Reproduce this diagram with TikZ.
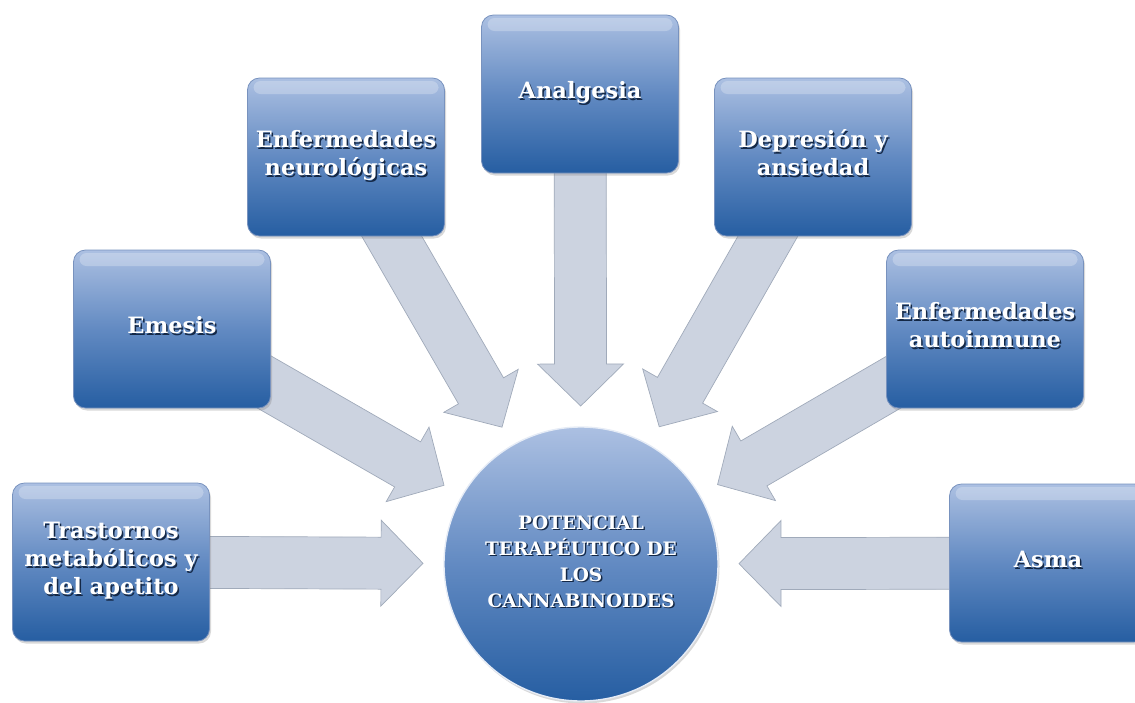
\documentclass[tikz,border=0pt]{standalone}
\usepackage{fontspec}
\setmainfont{DejaVu Serif}
\usetikzlibrary{calc,shadows,backgrounds}

\definecolor{boxtop}{RGB}{172,192,226}
\definecolor{boxmid}{RGB}{98,138,194}
\definecolor{boxbot}{RGB}{38,94,162}
\definecolor{boxedge}{RGB}{120,146,190}
\definecolor{arrowfill}{RGB}{204,211,224}
\definecolor{arrowedge}{RGB}{160,170,186}
\definecolor{txtshadow}{RGB}{20,40,70}

% white text with a dark offset copy underneath
\newcommand{\glowtext}[1]{%
  \leavevmode\rlap{\kern1.5pt\raisebox{-1.5pt}{\color{txtshadow}\begin{tabular}{@{}c@{}}#1\end{tabular}}}%
  \begin{tabular}{@{}c@{}}#1\end{tabular}}

% broad block arrow from node #1 towards node #2
\newcommand{\fatarrow}[2]{%
  \coordinate (tip) at ($(#2.center)!158pt!(#1.center)$);
  \coordinate (neck) at ($(tip)!42pt!(#1.center)$);
  \filldraw[blockarrow] ($(#1.center)!26pt!90:(tip)$) -- ($(neck)!26pt!90:(tip)$)
    -- ($(neck)!43pt!90:(tip)$) -- (tip) -- ($(neck)!43pt!-90:(tip)$)
    -- ($(neck)!26pt!-90:(tip)$) -- ($(#1.center)!26pt!-90:(tip)$) -- cycle;
}

\tikzset{
  topic/.style={rectangle, rounded corners=12pt, minimum width=197pt, minimum height=158pt,
    top color=boxtop, bottom color=boxbot, middle color=boxmid,
    draw=boxedge, line width=0.8pt, text=white,
    font=\fontsize{22.5}{28}\selectfont\bfseries,
    drop shadow={opacity=0.3, shadow xshift=1.5pt, shadow yshift=-2.5pt},
    path picture={\fill[white, opacity=0.25, rounded corners=7pt]
      ($(path picture bounding box.north west)+(6pt,-3pt)$) rectangle
      ($(path picture bounding box.north east)+(-6pt,-16pt)$);}},
  hub/.style={circle, minimum size=274pt, inner sep=0pt,
    top color=boxtop, bottom color=boxbot, middle color=boxmid,
    draw=white!70!boxtop, line width=1.4pt, text=white,
    font=\fontsize{18.5}{26}\selectfont\bfseries,
    drop shadow={opacity=0.3, shadow xshift=1.5pt, shadow yshift=-2.5pt}},
  blockarrow/.style={fill=arrowfill, draw=arrowedge, line width=0.7pt, line join=miter}
}

\begin{document}
\begin{tikzpicture}[x=1pt,y=-1pt]
\useasboundingbox (0,0) rectangle (1135,702);

% centre
\node[hub] (centro) at (581,564) {\glowtext{POTENCIAL\\TERAPÉUTICO DE\\LOS\\CANNABINOIDES}};

% surrounding boxes
\node[topic] (trast) at (111,562) {\glowtext{Trastornos\\metabólicos y\\del apetito}};
\node[topic] (emesis) at (172,329) {\glowtext{Emesis}};
\node[topic] (neuro) at (346,157) {\glowtext{Enfermedades\\neurológicas}};
\node[topic] (analg) at (580,94) {\glowtext{Analgesia}};
\node[topic] (depres) at (813,157) {\glowtext{Depresión y\\ansiedad}};
\node[topic] (autoinm) at (985,329) {\glowtext{Enfermedades\\autoinmune}};
\node[topic] (asma) at (1048,563) {\glowtext{Asma}};

% arrows behind everything
\begin{scope}[on background layer]
\foreach \src in {trast,emesis,neuro,analg,depres,autoinm,asma}
  \fatarrow{\src}{centro};
\end{scope}
\end{tikzpicture}
\end{document}
